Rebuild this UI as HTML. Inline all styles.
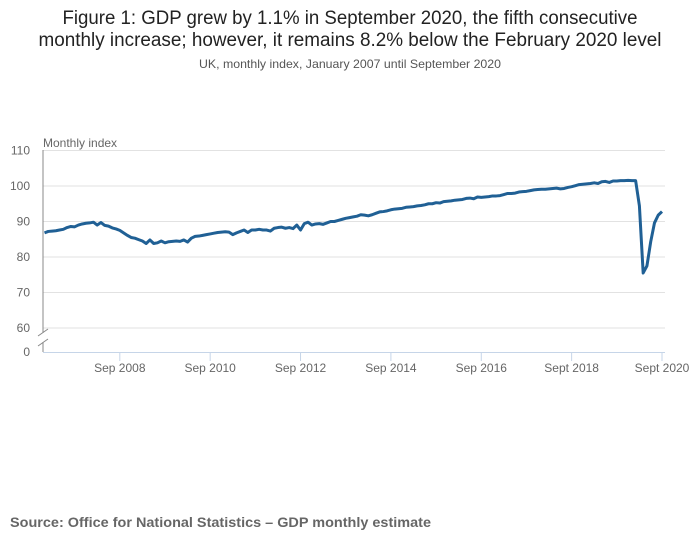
<!DOCTYPE html>
<html><head><meta charset="utf-8">
<style>
html,body{margin:0;padding:0;background:#fff;}
svg{display:block;font-family:"Liberation Sans Narrow","Liberation Sans",sans-serif;}
</style></head>
<body>
<svg id="chart" width="700" height="549" viewBox="0 0 700 549">
  <text x="350" y="24" text-anchor="middle" font-size="19" fill="#222" textLength="575" lengthAdjust="spacingAndGlyphs">Figure 1: GDP grew by 1.1% in September 2020, the fifth consecutive</text>
  <text x="350" y="46" text-anchor="middle" font-size="19" fill="#222" textLength="623" lengthAdjust="spacingAndGlyphs">monthly increase; however, it remains 8.2% below the February 2020 level</text>
  <text x="350" y="68" text-anchor="middle" font-size="12" fill="#555" textLength="302" lengthAdjust="spacingAndGlyphs">UK, monthly index, January 2007 until September 2020</text>
  <text x="43" y="147" font-size="12" fill="#666">Monthly index</text>
  <g id="grid"></g>
  <g id="xaxis"></g>
  <path id="line" fill="none" stroke="#206095" stroke-width="3" stroke-linejoin="round"/>
  <text x="10" y="527" font-size="14" font-weight="bold" fill="#666" font-family="Liberation Sans, sans-serif" textLength="421" lengthAdjust="spacingAndGlyphs">Source: Office for National Statistics – GDP monthly estimate</text>
</svg>
<script>
const yTicks = [60, 70, 80, 90, 100, 110];
const xTickLabels = ["Sep 2008","Sep 2010","Sep 2012","Sep 2014","Sep 2016","Sept 2018","Sept 2020"];
const xTickMonths = [20, 44, 68, 92, 116, 140, 164];
const gdp2007 = [86.8,87.2,87.3,87.4,87.6,87.8,88.3,88.6,88.5,89.0,89.3,89.5];
const gdp2008 = [89.6,89.8,89.0,89.7,88.9,88.7,88.2,87.9,87.5,86.8,86.1,85.5];
const gdp2009 = [85.3,84.9,84.5,83.8,84.8,83.8,84.0,84.5,84.0,84.3,84.4,84.5];
const gdp2010 = [84.4,84.8,84.2,85.3,85.8,85.9,86.1,86.3,86.5,86.7,86.9,87.0];
const gdp2011 = [87.1,87.0,86.3,86.8,87.2,87.6,86.9,87.6,87.6,87.8,87.6,87.6];
const gdp2012 = [87.3,88.1,88.3,88.4,88.1,88.3,88.0,89.0,87.6,89.4,89.8,89.0];
const gdp2013 = [89.3,89.4,89.2,89.6,90.0,90.0,90.3,90.6,90.9,91.1,91.3,91.5];
const gdp2014 = [91.9,91.8,91.6,91.9,92.3,92.7,92.8,93.0,93.3,93.5,93.6,93.7];
const gdp2015 = [94.0,94.1,94.2,94.4,94.5,94.7,95.0,95.0,95.3,95.2,95.6,95.7];
const gdp2016 = [95.8,96.0,96.1,96.2,96.5,96.6,96.4,96.9,96.8,96.9,97.0,97.2];
const gdp2017 = [97.2,97.3,97.6,97.9,97.9,98.0,98.3,98.4,98.5,98.7,98.9,99.0];
const gdp2018 = [99.1,99.1,99.2,99.3,99.4,99.2,99.3,99.6,99.8,100.1,100.4,100.5];
const gdp2019 = [100.6,100.7,100.9,100.7,101.2,101.3,101.0,101.4,101.4,101.5,101.5,101.6];
const gdp2020 = [101.5,101.5,94.4,75.5,77.5,84.3,89.6,91.8,92.8];
const series = [].concat(gdp2007,gdp2008,gdp2009,gdp2010,gdp2011,gdp2012,gdp2013,gdp2014,gdp2015,gdp2016,gdp2017,gdp2018,gdp2019,gdp2020);

const NS="http://www.w3.org/2000/svg";
const x0=44.5, x1=662;
function xScale(m){ return x0 + m*(x1-x0)/164; }
function yScale(v){ return v<=0 ? 352 : 186 + (100-v)*3.55; }

const grid=document.getElementById('grid');
yTicks.forEach(t=>{
  const y=yScale(t);
  const l=document.createElementNS(NS,'line');
  l.setAttribute('x1',43);l.setAttribute('x2',665);l.setAttribute('y1',y);l.setAttribute('y2',y);
  l.setAttribute('stroke','#e2e2e2');l.setAttribute('stroke-width','1');
  
  
  grid.appendChild(l);
  const tx=document.createElementNS(NS,'text');
  tx.setAttribute('x',30);tx.setAttribute('y',y+4);tx.setAttribute('text-anchor','end');
  tx.setAttribute('font-size','12');tx.setAttribute('fill','#666');tx.textContent=t;
  
  
  grid.appendChild(tx);
});
const z=document.createElementNS(NS,'text');
z.setAttribute('x',30);z.setAttribute('y',356);z.setAttribute('text-anchor','end');
z.setAttribute('font-size','12');z.setAttribute('fill','#666');z.textContent='0';


grid.appendChild(z);

const xa=document.getElementById('xaxis');
xa.innerHTML='<line x1="43" x2="43" y1="150" y2="333" stroke="#888" stroke-width="1"/>'+
 '<line x1="43" x2="43" y1="342" y2="352" stroke="#888" stroke-width="1"/>'+
 '<line x1="38" x2="48" y1="336" y2="329" stroke="#888" stroke-width="1"/>'+
 '<line x1="38" x2="48" y1="346" y2="339" stroke="#888" stroke-width="1"/>'+
 '<line x1="43" x2="665" y1="352.5" y2="352.5" stroke="#c6d5e8" stroke-width="1"/>';
xTickMonths.forEach((m,i)=>{
  const x=xScale(m);
  const l=document.createElementNS(NS,'line');
  l.setAttribute('x1',x);l.setAttribute('x2',x);l.setAttribute('y1',352);l.setAttribute('y2',361);
  l.setAttribute('stroke','#c6d5e8');
  
  
  xa.appendChild(l);
  const t=document.createElementNS(NS,'text');
  t.setAttribute('x',x);t.setAttribute('y',372);t.setAttribute('text-anchor','middle');
  t.setAttribute('font-size','12');t.setAttribute('fill','#666');t.textContent=xTickLabels[i];
  
  
  xa.appendChild(t);
});
let d='';
series.forEach((v,i)=>{ d+=(i?'L':'M')+xScale(i).toFixed(2)+','+yScale(v).toFixed(2); });
document.getElementById('line').setAttribute('d',d);
</script>
</body></html>
